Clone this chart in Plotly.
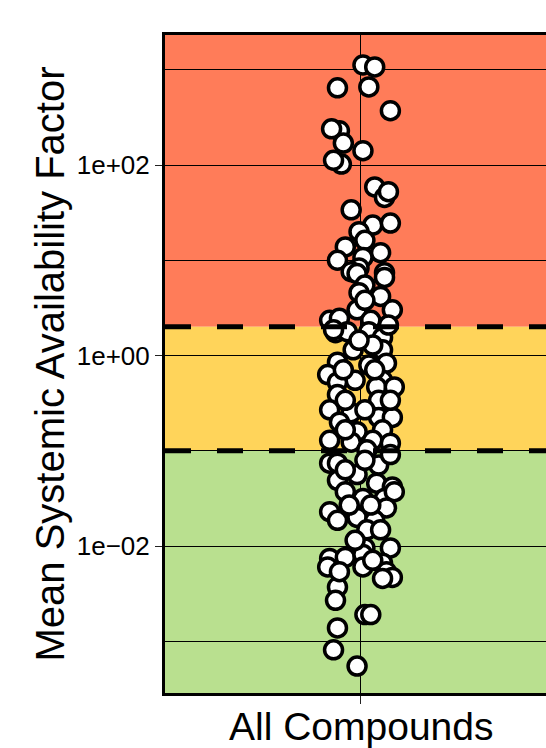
import math
import plotly.graph_objects as go

# ---- data ----
category_label = "All Compounds"
# horizontal jitter offsets (category units)
jitter = [
    0.01, 0.07, -0.12, 0.04, 0.15, -0.11, -0.15, -0.09, 0.01, -0.10,
    -0.14, 0.07, 0.12, 0.14, -0.05, 0.06, 0.15, -0.01, 0.02, -0.08,
    0.10, 0.01, -0.12, -0.01, 0.12, -0.05, -0.02, 0.12, 0.02, -0.01,
    0.10, -0.02, 0.16, -0.16, -0.11, 0.05, -0.13, -0.07, 0.04, 0.11,
    -0.04, 0.11, -0.12, 0.04, 0.13, -0.17, -0.03, 0.11, -0.12, 0.08,
    0.17, -0.12, 0.09, -0.16, -0.05, 0.09, 0.16, -0.11, -0.02, 0.11,
    -0.16, -0.05, 0.06, 0.15, 0.03, -0.16, -0.12, 0.09, -0.02, -0.12,
    0.08, 0.16, -0.08, 0.01, 0.12, 0.17, 0.13, -0.16, -0.12, -0.02,
    0.07, 0.03, 0.02, 0.15, -0.16, -0.08, 0.01, -0.17, 0.01, 0.11,
    0.13, 0.16, 0.11, -0.12, -0.13, 0.02, 0.05, -0.12, -0.14, -0.02,
    -0.09, 0.02, 0.06, -0.08, 0.02, 0.15, -0.08, 0.02, 0.15, -0.08,
    0.05, -0.06, 0.10, -0.03, 0.06, -0.11, -0.14, -0.01, 0.14, 0.07,
]
# log10 of mean systemic availability factor
log10_saf = [
    3.05, 3.03, 2.81, 2.82, 2.57, 2.36, 2.38, 2.23, 2.15, 2.01,
    2.05, 1.77, 1.66, 1.72, 1.53, 1.37, 1.39, 1.30, 1.21, 1.14,
    1.08, 1.03, 1.00, 0.92, 0.87, 0.88, 0.86, 0.82, 0.74, 0.66,
    0.62, 0.48, 0.48, 0.37, 0.39, 0.37, 0.24, 0.25, 0.25, 0.19,
    0.06, 0.06, -0.07, -0.10, -0.08, -0.20, -0.26, -0.26, -0.28, -0.33,
    -0.33, -0.41, -0.47, -0.57, -0.60, -0.65, -0.65, -0.70, -0.80, -0.78,
    -0.89, -0.91, -0.89, -0.92, -0.99, -1.13, -1.13, -1.15, -1.25, -1.31,
    -1.34, -1.38, -1.43, -1.50, -1.50, -1.43, -1.60, -1.64, -1.73, -1.70,
    -1.73, -1.83, -2.02, -2.02, -2.13, -2.12, -2.09, -2.22, -2.22, -2.18,
    -2.27, -2.33, -2.34, -2.43, -2.57, -2.72, -2.72, -2.86, -3.09, -3.26,
    -0.15, 0.58, 0.11, -0.47, -0.57, -0.47, -0.78, -1.10, -1.04, -1.20,
    -1.57, -1.57, -1.83, -1.94, -2.15, -2.27, 0.27, 0.16, 0.32, -0.15,
]
saf = [10 ** v for v in log10_saf]

upper_threshold = 2.0
lower_threshold = 0.1
band_colors = ["#FF7C59", "#FFD45A", "#B9E08F"]  # high, medium, low

y_tickvals = [1e-2, 1e0, 1e2]
y_ticktext = ["1e\u221202", "1e+00", "1e+02"]
y_gridvals = [1e-3, 1e-2, 1e-1, 1e0, 1e1, 1e2, 1e3]
y_range_log = [-3.543, 3.365]

FONT = "Liberation Sans, Arial, sans-serif"

fig = go.Figure()
fig.add_trace(go.Scatter(
    x=jitter, y=saf, mode="markers",
    marker=dict(size=18, color="white", line=dict(color="black", width=3.5)),
    showlegend=False, hoverinfo="y",
))

y_lo = 10 ** y_range_log[0]
y_hi = 10 ** y_range_log[1]
shapes = [
    dict(type="rect", xref="paper", yref="y", x0=0, x1=1, y0=upper_threshold, y1=y_hi,
         fillcolor=band_colors[0], line=dict(width=0), layer="below"),
    dict(type="rect", xref="paper", yref="y", x0=0, x1=1, y0=lower_threshold, y1=upper_threshold,
         fillcolor=band_colors[1], line=dict(width=0), layer="below"),
    dict(type="rect", xref="paper", yref="y", x0=0, x1=1, y0=y_lo, y1=lower_threshold,
         fillcolor=band_colors[2], line=dict(width=0), layer="below"),
    dict(type="line", xref="paper", yref="y", x0=0, x1=1,
         y0=upper_threshold, y1=upper_threshold,
         line=dict(color="black", width=5, dash="26px,26px"), layer="above"),
    dict(type="line", xref="paper", yref="y", x0=0, x1=1,
         y0=lower_threshold, y1=lower_threshold,
         line=dict(color="black", width=5, dash="26px,26px"), layer="above"),
]

# category label drawn beneath the x tick
annotations = [
    dict(text=category_label, xref="x", yref="paper", x=0, y=0,
         xanchor="center", yanchor="middle", yshift=-33, showarrow=False,
         font=dict(size=39, family=FONT, color="black")),
]

fig.update_layout(
    width=546, height=748,
    margin=dict(l=165, r=0, t=35, b=55, pad=0),
    paper_bgcolor="white", plot_bgcolor="white",
    font=dict(family=FONT, color="black"),
    shapes=shapes,
    annotations=annotations,
    xaxis=dict(
        range=[-1, 0.944], tickvals=[0], ticktext=[""],
        ticks="outside", ticklen=8, tickwidth=1, tickcolor="#222",
        showgrid=True, gridcolor="black", gridwidth=1,
        showline=True, linecolor="black", linewidth=3, mirror=True,
        zeroline=False, automargin=False,
    ),
    yaxis=dict(
        type="log", range=y_range_log,
        tickvals=y_tickvals, ticktext=y_ticktext,
        tickfont=dict(size=26, family=FONT, color="black"),
        ticks="outside", ticklen=7, tickwidth=1, tickcolor="#222",
        showgrid=True, gridcolor="black", gridwidth=1,
        minor=dict(tickvals=y_gridvals, showgrid=True, gridcolor="black",
                   gridwidth=1, ticks=""),
        showline=True, linecolor="black", linewidth=3,
        zeroline=False, automargin=False,
        title=dict(text="Mean Systemic Availability Factor",
                   font=dict(size=40, family=FONT, color="black"), standoff=0),
    ),
)

fig.write_html("out.html")
